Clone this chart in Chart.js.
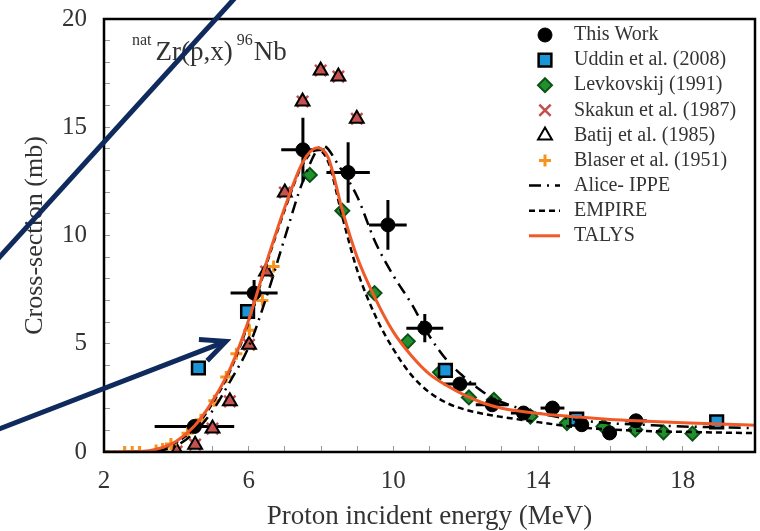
<!DOCTYPE html>
<html>
<head>
<meta charset="utf-8">
<script src="https://cdn.jsdelivr.net/npm/chart.js@4.4.1/dist/chart.umd.min.js"></script>
<style>
  html, body { margin: 0; padding: 0; background: #fff; }
</style>
</head>
<body>
<canvas id="xsChart" width="760" height="531"></canvas>
<script>
// Datos (energía en MeV, sección eficaz en mb)
const thisWorkE   = [4.50, 6.15, 7.50, 8.75, 9.85, 10.87, 11.84, 12.73, 13.60, 14.40, 15.21, 15.98, 16.71];
const thisWorkXS  = [1.18, 7.34, 13.96, 12.91, 10.49, 5.72, 3.14, 2.18, 1.80, 2.03, 1.26, 0.88, 1.44];
const thisWorkDE  = [1.10, 0.65, 0.60, 0.60, 0.52, 0.51, 0.45, 0.45, 0.35, 0.33, 0, 0, 0.30];
const thisWorkDXS = [0.20, 0.60, 1.48, 1.40, 1.15, 0.65, 0.20, 0, 0, 0, 0, 0, 0];

const uddinE  = [4.61, 5.97, 11.44, 15.07, 18.94];
const uddinXS = [3.88, 6.49, 3.77, 1.52, 1.39];

const levkovskijE  = [7.69, 8.59, 9.48, 10.40, 11.29, 12.09, 12.78, 13.79, 14.80, 15.81, 16.69, 17.47, 18.27];
const levkovskijXS = [12.80, 11.14, 7.34, 5.11, 3.68, 2.52, 2.41, 1.64, 1.34, 1.18, 1.03, 0.91, 0.85];

const skakunE  = [4.01, 4.52, 5.00, 5.48, 6.01, 6.48, 7.00, 7.49, 7.99, 8.48, 8.99];
const skakunXS = [0.02, 0.34, 1.08, 2.34, 4.95, 8.34, 11.99, 16.19, 17.62, 17.34, 15.39];

const batijE  = [4.01, 4.52, 5.00, 5.48, 6.01, 6.48, 7.00, 7.49, 7.99, 8.48, 8.99];
const batijXS = [0.02, 0.34, 1.08, 2.34, 4.95, 8.34, 11.99, 16.19, 17.62, 17.34, 15.39];

const blaserE  = [2.57, 2.78, 2.98, 3.44, 3.62, 3.85, 4.31, 4.68, 5.05, 5.38, 5.66, 6.02, 6.38, 6.69];
const blaserXS = [0.00, 0.00, 0.00, 0.07, 0.14, 0.37, 0.87, 1.49, 2.37, 3.46, 4.54, 5.62, 7.00, 8.57];

const aliceE  = [2, 3, 4, 4.5, 5, 5.5, 6, 6.5, 7, 7.5, 8.05, 8.5, 9, 9.5, 10, 10.5, 11, 11.5, 12, 12.5, 13, 14, 15, 16, 17, 18, 19, 20];
const aliceXS = [0, 0, 0.3, 0.9, 1.9, 3.3, 4.85, 7.2, 9.9, 12.5, 14.15, 13.2, 11.8, 9.7, 8.15, 6.85, 5.35, 4.2, 3.4, 2.75, 2.3, 1.8, 1.5, 1.33, 1.25, 1.18, 1.14, 1.1];

const empireE  = [2, 3, 3.5, 4, 4.5, 5, 5.5, 6, 6.5, 7, 7.5, 7.9, 8.2, 8.6, 9, 9.5, 10, 10.5, 11, 11.5, 12, 12.5, 13, 14, 15, 16, 17, 18, 19, 20];
const empireXS = [0, 0.02, 0.12, 0.45, 1.1, 2.25, 3.8, 6.0, 8.7, 11.2, 13.3, 13.95, 13.4, 10.8, 8.4, 6.3, 4.75, 3.55, 2.75, 2.25, 1.95, 1.76, 1.62, 1.38, 1.16, 1.04, 0.97, 0.93, 0.9, 0.87];

const talysE  = [2, 3, 3.5, 4, 4.5, 5, 5.5, 6, 6.5, 7, 7.5, 7.9, 8.2, 8.6, 9, 9.5, 10, 10.5, 11, 11.5, 12, 12.5, 13, 14, 15, 16, 17, 18, 19, 20];
const talysXS = [0, 0.02, 0.15, 0.5, 1.2, 2.35, 3.9, 6.1, 8.8, 11.3, 13.4, 14.05, 13.6, 11.1, 9.0, 7.1, 5.55, 4.45, 3.6, 3.05, 2.6, 2.25, 2.02, 1.78, 1.63, 1.5, 1.42, 1.35, 1.29, 1.24];

const xLabelTicks = [2, 6, 10, 14, 18];
const yLabelTicks = [0, 5, 10, 15, 20];

const legendOrder = ['This Work', 'Uddin et al. (2008)', 'Levkovskij (1991)', 'Skakun et al. (1987)',
  'Batij et al. (1985)', 'Blaser et al. (1951)', 'Alice- IPPE', 'EMPIRE', 'TALYS'];

const serif = '"Liberation Serif", "Times New Roman", serif';
const textColor = '#333';
const navy = '#0f2a5c';

function pts(xs, ys) {
    return xs.map((x, i) => ({ x: x, y: ys[i] }));
}

// Dibuja un marcador sencillo (para la leyenda)
function drawMarker(ctx, style, x, y, r) {
    ctx.beginPath();
    if (style === 'circle') {
        ctx.arc(x, y, r, 0, Math.PI * 2);
        ctx.fill(); ctx.stroke();
    } else if (style === 'rect') {
        const s = r * Math.SQRT1_2;
        ctx.rect(x - s, y - s, 2 * s, 2 * s);
        ctx.fill(); ctx.stroke();
    } else if (style === 'rectRot') {
        ctx.moveTo(x - r, y); ctx.lineTo(x, y - r); ctx.lineTo(x + r, y); ctx.lineTo(x, y + r);
        ctx.closePath(); ctx.fill(); ctx.stroke();
    } else if (style === 'triangle') {
        for (let k = 0; k < 3; k++) {
            const a = k * 2 * Math.PI / 3;
            const px = x + Math.sin(a) * r, py = y - Math.cos(a) * r;
            if (k === 0) ctx.moveTo(px, py); else ctx.lineTo(px, py);
        }
        ctx.closePath(); ctx.fill(); ctx.stroke();
    } else if (style === 'crossRot') {
        const d = r * Math.SQRT1_2;
        ctx.moveTo(x - d, y - d); ctx.lineTo(x + d, y + d);
        ctx.moveTo(x + d, y - d); ctx.lineTo(x - d, y + d);
        ctx.stroke();
    } else if (style === 'cross') {
        ctx.moveTo(x - r, y); ctx.lineTo(x + r, y);
        ctx.moveTo(x, y - r); ctx.lineTo(x, y + r);
        ctx.stroke();
    }
}

// Barras de error de "This Work"
const errorBars = {
    id: 'errorBars',
    beforeDatasetsDraw(chart) {
        const xs = chart.scales.x, ys = chart.scales.y, ctx = chart.ctx;
        ctx.save();
        ctx.strokeStyle = '#000';
        ctx.lineWidth = 3;
        thisWorkE.forEach((e, i) => {
            const px = xs.getPixelForValue(e), py = ys.getPixelForValue(thisWorkXS[i]);
            ctx.beginPath();
            if (thisWorkDE[i]) {
                ctx.moveTo(xs.getPixelForValue(e - thisWorkDE[i]), py);
                ctx.lineTo(xs.getPixelForValue(e + thisWorkDE[i]), py);
            }
            if (thisWorkDXS[i]) {
                ctx.moveTo(px, ys.getPixelForValue(thisWorkXS[i] - thisWorkDXS[i]));
                ctx.lineTo(px, ys.getPixelForValue(thisWorkXS[i] + thisWorkDXS[i]));
            }
            ctx.stroke();
        });
        ctx.restore();
    }
};

// Marco, título de la reacción, leyenda y flechas
const decorations = {
    id: 'decorations',
    afterDraw(chart) {
        const ctx = chart.ctx, area = chart.chartArea;
        const xs = chart.scales.x, ys = chart.scales.y;
        ctx.save();

        // marco del gráfico
        ctx.strokeStyle = '#000';
        ctx.lineWidth = 2.5;
        ctx.strokeRect(area.left, area.top, area.right - area.left, area.bottom - area.top);

        // título natZr(p,x)96Nb
        ctx.fillStyle = textColor;
        ctx.textBaseline = 'alphabetic';
        let tx = area.left + 28;
        const base = area.top + 41;
        ctx.font = '16px ' + serif;
        ctx.fillText('nat', tx, base - 15);
        tx += ctx.measureText('nat').width + 4;
        ctx.font = '27px ' + serif;
        ctx.fillText('Zr(p,x)', tx, base);
        tx += ctx.measureText('Zr(p,x)').width + 4;
        ctx.font = '16px ' + serif;
        ctx.fillText('96', tx, base - 15);
        tx += ctx.measureText('96').width + 1;
        ctx.font = '27px ' + serif;
        ctx.fillText('Nb', tx, base);

        // leyenda
        const mx = area.right - 210, lx = area.right - 181;
        let ly = area.top + 16;
        ctx.font = '20px ' + serif;
        ctx.textBaseline = 'middle';
        legendOrder.forEach(label => {
            const ds = chart.data.datasets.find(d => d.label === label);
            ctx.save();
            if (ds.showLine) {
                ctx.strokeStyle = ds.borderColor;
                ctx.lineWidth = ds.borderWidth;
                ctx.setLineDash(ds.borderDash || []);
                ctx.beginPath();
                ctx.moveTo(mx - 16, ly);
                ctx.lineTo(mx + 15, ly);
                ctx.stroke();
            } else {
                ctx.fillStyle = ds.legendFill || ds.backgroundColor || '#fff';
                ctx.strokeStyle = ds.borderColor;
                ctx.lineWidth = ds.borderWidth;
                drawMarker(ctx, ds.pointStyle, mx, ly, ds.legendRadius || ds.pointRadius);
            }
            ctx.restore();
            ctx.fillStyle = textColor;
            ctx.fillText(label, lx, ly);
            ly += 25.1;
        });

        // flechas de anotación (en unidades de datos)
        const P = p => [xs.getPixelForValue(p[0]), ys.getPixelForValue(p[1])];
        ctx.strokeStyle = navy;
        ctx.lineWidth = 5;
        ctx.lineCap = 'butt';
        ctx.lineJoin = 'miter';
        const l1a = P([6.18, 22.0]), l1b = P([-1.71, 7.5]);
        ctx.beginPath();
        ctx.moveTo(l1a[0], l1a[1]);
        ctx.lineTo(l1b[0], l1b[1]);
        ctx.stroke();

        const tail = P([-1.51, 0.67]), tip = P([5.37, 5.11]);
        ctx.beginPath();
        ctx.moveTo(tail[0], tail[1]);
        ctx.lineTo(tip[0], tip[1]);
        ctx.stroke();
        const ang = Math.atan2(tail[1] - tip[1], tail[0] - tip[0]);
        const L = 27, h = 25 * Math.PI / 180;
        ctx.beginPath();
        ctx.moveTo(tip[0] + L * Math.cos(ang + h), tip[1] + L * Math.sin(ang + h));
        ctx.lineTo(tip[0], tip[1]);
        ctx.lineTo(tip[0] + L * Math.cos(ang - h), tip[1] + L * Math.sin(ang - h));
        ctx.stroke();

        ctx.restore();
    }
};

const curve = { showLine: true, pointRadius: 0, cubicInterpolationMode: 'monotone', fill: false };

new Chart(document.getElementById('xsChart'), {
    type: 'scatter',
    data: {
        datasets: [
            Object.assign({ label: 'TALYS', data: pts(talysE, talysXS), borderColor: '#f05a28', borderWidth: 3 }, curve),
            Object.assign({ label: 'EMPIRE', data: pts(empireE, empireXS), borderColor: '#000', borderWidth: 2.5, borderDash: [6, 4] }, curve),
            Object.assign({ label: 'Alice- IPPE', data: pts(aliceE, aliceXS), borderColor: '#000', borderWidth: 2.5, borderDash: [12, 6, 2, 6] }, curve),
            { label: 'This Work', data: pts(thisWorkE, thisWorkXS), pointStyle: 'circle', pointRadius: 7,
              backgroundColor: '#000', borderColor: '#000', borderWidth: 1 },
            { label: 'Blaser et al. (1951)', data: pts(blaserE, blaserXS), pointStyle: 'cross', pointRadius: 6,
              borderColor: '#f7921e', backgroundColor: '#f7921e', borderWidth: 3 },
            { label: 'Uddin et al. (2008)', data: pts(uddinE, uddinXS), pointStyle: 'rect', pointRadius: 9,
              backgroundColor: '#1a96d8', borderColor: '#000', borderWidth: 2.5 },
            { label: 'Levkovskij (1991)', data: pts(levkovskijE, levkovskijXS), pointStyle: 'rectRot', pointRadius: 7,
              backgroundColor: '#22902f', borderColor: '#0c5216', borderWidth: 2 },
            { label: 'Batij et al. (1985)', data: pts(batijE, batijXS), pointStyle: 'triangle', pointRadius: 8,
              backgroundColor: '#c5524e', borderColor: '#000', borderWidth: 2, legendFill: '#fff' },
            { label: 'Skakun et al. (1987)', data: pts(skakunE, skakunXS), pointStyle: 'crossRot', pointRadius: 8,
              borderColor: '#c0504d', backgroundColor: '#c0504d', borderWidth: 2.5 }
        ]
    },
    options: {
        responsive: false,
        animation: false,
        events: [],
        layout: { autoPadding: false, padding: { top: 19, right: 5, left: 0, bottom: 0 } },
        plugins: { legend: { display: false }, tooltip: { enabled: false } },
        scales: {
            x: {
                type: 'linear', min: 2, max: 20,
                afterFit: s => { s.height = 79; s.paddingLeft = 0; s.paddingRight = 0; },
                border: { display: false },
                grid: { drawOnChartArea: false, tickLength: -6, color: '#999', lineWidth: 1 },
                ticks: {
                    stepSize: 1, autoSkip: false, maxRotation: 0, padding: 20,
                    color: textColor, font: { family: serif, size: 25 },
                    callback: v => xLabelTicks.includes(v) ? v : ''
                },
                title: {
                    display: true, text: 'Proton incident energy (MeV)', color: textColor,
                    font: { family: serif, size: 27, lineHeight: 1.05 }, padding: { top: 0, bottom: 0 }
                }
            },
            y: {
                type: 'linear', min: 0, max: 20,
                afterFit: s => { s.width = 104; s.paddingTop = 0; s.paddingBottom = 0; },
                border: { display: false },
                grid: { drawOnChartArea: false, tickLength: -6, color: '#999', lineWidth: 1 },
                ticks: {
                    stepSize: 1, autoSkip: false, padding: 23,
                    color: textColor, font: { family: serif, size: 25 },
                    callback: v => yLabelTicks.includes(v) ? v : ''
                },
                title: {
                    display: true, text: 'Cross-section (mb)', color: textColor,
                    font: { family: serif, size: 26 }, padding: { top: 20, bottom: 0 }
                }
            }
        }
    },
    plugins: [errorBars, decorations]
});
</script>
</body>
</html>
